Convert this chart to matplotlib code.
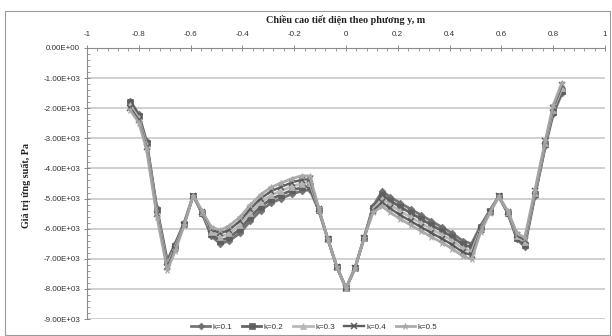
import matplotlib
matplotlib.use("Agg")
import matplotlib.pyplot as plt
from matplotlib.ticker import MultipleLocator, FuncFormatter
from matplotlib.patches import Rectangle

# Section height coordinate y (m)
y_pos = [-0.834, -0.80, -0.77, -0.73, -0.69, -0.66, -0.625, -0.59, -0.555, -0.52,
         -0.485, -0.45, -0.41, -0.37, -0.33, -0.29, -0.25, -0.21, -0.17, -0.14,
         -0.105, -0.07, -0.035, 0.0, 0.035, 0.07, 0.105, 0.14, 0.17, 0.21,
         0.25, 0.29, 0.33, 0.37, 0.41, 0.45, 0.485, 0.52, 0.555, 0.59,
         0.625, 0.66, 0.69, 0.73, 0.77, 0.80, 0.834]

# Stress values (Pa) for each k
s_k01 = [-1750, -2200, -3100, -5320, -7050, -6500, -5810, -4900, -5500, -6250,
         -6500, -6400, -6150, -5750, -5400, -5150, -5000, -4850, -4750, -4700,
         -5400, -6350, -7280, -7980, -7300, -6300, -5250, -4750, -4950, -5150,
         -5350, -5550, -5750, -5950, -6150, -6400, -6500, -5900, -5400, -4930,
         -5500, -6350, -6600, -4900, -3250, -2200, -1500]
s_k02 = [-1780, -2250, -3150, -5380, -7120, -6560, -5830, -4900, -5480, -6180,
         -6400, -6290, -6020, -5620, -5270, -5020, -4870, -4730, -4630, -4590,
         -5380, -6350, -7280, -7980, -7300, -6300, -5300, -4870, -5070, -5280,
         -5480, -5680, -5880, -6070, -6270, -6520, -6620, -5950, -5420, -4930,
         -5480, -6300, -6530, -4850, -3200, -2130, -1420]
s_k03 = [-1900, -2330, -3220, -5450, -7200, -6620, -5850, -4900, -5460, -6100,
         -6270, -6160, -5880, -5480, -5130, -4890, -4740, -4600, -4500, -4470,
         -5360, -6350, -7280, -7980, -7300, -6300, -5350, -5000, -5200, -5420,
         -5620, -5820, -6010, -6200, -6400, -6650, -6750, -6000, -5440, -4930,
         -5460, -6250, -6450, -4800, -3150, -2050, -1330]
s_k04 = [-1980, -2400, -3300, -5520, -7280, -6680, -5870, -4900, -5440, -6020,
         -6160, -6030, -5750, -5350, -5000, -4760, -4610, -4470, -4370, -4360,
         -5340, -6350, -7280, -7980, -7300, -6300, -5400, -5130, -5330, -5550,
         -5750, -5950, -6140, -6330, -6530, -6780, -6880, -6050, -5460, -4930,
         -5440, -6200, -6380, -4750, -3100, -1980, -1240]
s_k05 = [-2060, -2480, -3370, -5600, -7380, -6750, -5890, -4900, -5420, -5950,
         -6050, -5900, -5620, -5220, -4870, -4630, -4480, -4340, -4240, -4250,
         -5320, -6350, -7280, -7980, -7300, -6300, -5450, -5260, -5460, -5680,
         -5880, -6080, -6270, -6460, -6660, -6910, -7020, -6100, -5480, -4930,
         -5420, -6150, -6300, -4700, -3050, -1900, -1150]

series_labels = ["k=0.1", "k=0.2", "k=0.3", "k=0.4", "k=0.5"]
series_values = [s_k01, s_k02, s_k03, s_k04, s_k05]

x_ticks = [-1, -0.8, -0.6, -0.4, -0.2, 0, 0.2, 0.4, 0.6, 0.8, 1]
x_tick_labels = ["-1", "-0.8", "-0.6", "-0.4", "-0.2", "0", "0.2", "0.4", "0.6", "0.8", "1"]

title_text = "Chiều cao tiết diện theo phương y, m"
ylabel_text = "Giá trị ứng suất, Pa"

styles = [
    dict(color="#6e6e6e", marker="D", ms=3.4, lw=2.0),
    dict(color="#5e5e5e", marker="s", ms=4.6, lw=2.0),
    dict(color="#b6b6b6", marker="^", ms=3.8, lw=2.0),
    dict(color="#555555", marker="x", ms=4.0, lw=1.7, mew=1.1),
    dict(color="#a8a8a8", marker="*", ms=4.6, lw=2.0),
]

fig = plt.figure(figsize=(6.12, 3.36), dpi=100)
fig.patches.append(Rectangle((5 / 612, 0.002), 605 / 612, 1 - 11 / 336 - 0.002,
                             transform=fig.transFigure, fill=False,
                             edgecolor="#9a9a9a", lw=0.8))

ax = fig.add_axes([87 / 612, 1 - 319 / 336, (605 - 87) / 612, (319 - 48) / 336])

for lab, vals, st in zip(series_labels, series_values, styles):
    ax.plot(y_pos, vals, label=lab, color=st["color"], lw=st["lw"],
            marker=st["marker"], markersize=st["ms"],
            markeredgewidth=st.get("mew", 0.5), markeredgecolor=st["color"],
            markerfacecolor=st["color"], zorder=3, alpha=0.95)

ax.set_xlim(-1, 1)
ax.set_ylim(-9000, 0)

ax.xaxis.tick_top()
ax.set_xticks(x_ticks)
ax.set_xticklabels(x_tick_labels)
ax.xaxis.set_minor_locator(MultipleLocator(0.04))
ax.yaxis.set_major_locator(MultipleLocator(1000))
ax.yaxis.set_minor_locator(MultipleLocator(200))
ax.yaxis.set_major_formatter(FuncFormatter(lambda v, p: f"{v:.2E}"))

ax.tick_params(axis="both", which="major", labelsize=5.8, colors="#888888",
               labelcolor="#333333", length=4, width=0.7, direction="inout")
ax.tick_params(axis="both", which="minor", colors="#888888", length=2, width=0.6,
               direction="in")
ax.tick_params(axis="x", which="both", top=True, bottom=False, pad=5)
ax.tick_params(axis="y", which="major", pad=3)
for lbl in ax.get_xticklabels() + ax.get_yticklabels():
    lbl.set_family("Liberation Sans")

ax.grid(axis="y", which="major", color="#c4c4c4", lw=1.1)
ax.set_axisbelow(True)
for side in ["bottom", "right"]:
    ax.spines[side].set_visible(False)
for side in ["top", "left"]:
    ax.spines[side].set_color("#8a8a8a")
    ax.spines[side].set_linewidth(0.8)

fig.text(346 / 612, 1 - 20 / 336, title_text, ha="center", va="center",
         fontsize=7.3, fontweight="bold", family="Liberation Serif", color="#222222")
fig.text(26 / 612, 1 - 185 / 336, ylabel_text, ha="center", va="center",
         rotation=90, fontsize=7.3, fontweight="bold", family="Liberation Serif",
         color="#222222")

leg = fig.legend(loc="center", bbox_to_anchor=(314 / 612, 1 - 327 / 336), ncol=5,
                 frameon=False, handlelength=2.4, columnspacing=1.2,
                 handletextpad=0.3, borderaxespad=0, borderpad=0,
                 prop={"family": "Liberation Sans", "size": 5.8})
for t in leg.get_texts():
    t.set_color("#333333")

fig.savefig("out.png", dpi=100)
